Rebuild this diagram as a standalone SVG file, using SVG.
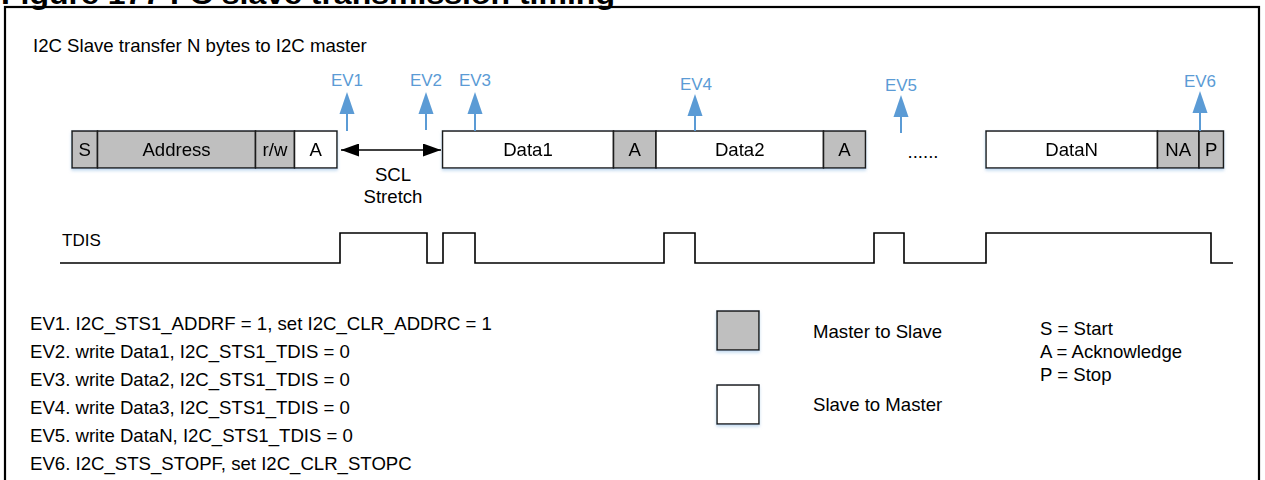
<svg xmlns="http://www.w3.org/2000/svg" width="1265" height="480" viewBox="0 0 1265 480">
<style>
text{font-family:"Liberation Sans",Arial,sans-serif;font-size:18.6px;fill:#000}
.t{text-anchor:middle}
.ev{fill:#5B9BD5;font-size:17px;text-anchor:middle}
.m{fill:#BFBFBF;stroke:#1a1a1a;stroke-width:1.5}
.s{fill:#FFFFFF;stroke:#1a1a1a;stroke-width:1.5}
.evl{stroke:#5B9BD5;stroke-width:2;fill:none}
.evh{fill:#5B9BD5}
.wave{fill:none;stroke:#000;stroke-width:1.6}
</style>
<defs>
<filter id="sh" x="-10%" y="-20%" width="120%" height="160%">
<feDropShadow dx="0" dy="2" stdDeviation="1.5" flood-color="#9DC3E6" flood-opacity="0.6"/>
</filter>
<marker id="ah" markerWidth="18" markerHeight="13" refX="18" refY="6.5" orient="auto" markerUnits="userSpaceOnUse">
<path d="M0,0 L18,6.5 L0,13 Z" fill="#000"/>
</marker>
</defs>
<rect width="1265" height="480" fill="#fff"/>
<text x="1" y="4" style="font-weight:bold;font-size:28px" textLength="614" lengthAdjust="spacingAndGlyphs">Figure 177 I²C slave transmission timing</text>
<rect x="5" y="7" width="1254" height="500" fill="none" stroke="#000" stroke-width="2.2"/>
<text x="33" y="52">I2C Slave transfer N bytes to I2C master</text>

<g id="frame1" filter="url(#sh)">
<g id="S"><rect class="m" x="72" y="131" width="25.5" height="37"/><text class="t" x="84.7" y="156">S</text></g>
<g id="Address"><rect class="m" x="97.5" y="131" width="158" height="37"/><text class="t" x="176.5" y="156">Address</text></g>
<g id="rw"><rect class="m" x="255.5" y="131" width="39" height="37"/><text class="t" x="275" y="156">r/w</text></g>
<g id="A0"><rect class="s" x="294.5" y="131" width="42.5" height="37"/><text class="t" x="315.7" y="156">A</text></g>
</g>
<g id="frame2" filter="url(#sh)">
<g id="Data1"><rect class="s" x="442.5" y="131" width="171" height="37"/><text class="t" x="528" y="156">Data1</text></g>
<g id="A1"><rect class="m" x="613.5" y="131" width="42.5" height="37"/><text class="t" x="634.7" y="156">A</text></g>
<g id="Data2"><rect class="s" x="656" y="131" width="167.5" height="37"/><text class="t" x="739.7" y="156">Data2</text></g>
<g id="A2"><rect class="m" x="823.5" y="131" width="42" height="37"/><text class="t" x="844.5" y="156">A</text></g>
</g>
<g id="dots"><text class="t" x="923" y="158">......</text></g>
<g id="frame3" filter="url(#sh)">
<g id="DataN"><rect class="s" x="986" y="131" width="171.5" height="37"/><text class="t" x="1071.7" y="156">DataN</text></g>
<g id="NA"><rect class="m" x="1157.5" y="131" width="41.5" height="37"/><text class="t" x="1178.2" y="156">NA</text></g>
<g id="P"><rect class="m" x="1199" y="131" width="24.5" height="37"/><text class="t" x="1211.2" y="156">P</text></g>
</g>

<g id="connectors">
<line x1="390" y1="150" x2="341" y2="150" stroke="#000" stroke-width="1.6" marker-end="url(#ah)"/>
<line x1="390" y1="150" x2="441" y2="150" stroke="#000" stroke-width="1.6" marker-end="url(#ah)"/>
<g id="ev1a"><line class="evl" x1="347" y1="112" x2="347" y2="131"/><path class="evh" d="M347,92 L354.5,114 L339.5,114 Z"/></g>
<g id="ev2a"><line class="evl" x1="426" y1="112" x2="426" y2="130"/><path class="evh" d="M426,92 L433.5,114 L418.5,114 Z"/></g>
<g id="ev3a"><line class="evl" x1="475" y1="112" x2="475" y2="131"/><path class="evh" d="M475,92 L482.5,114 L467.5,114 Z"/></g>
<g id="ev4a"><line class="evl" x1="695" y1="113" x2="695" y2="131"/><path class="evh" d="M695,94 L702.5,116 L687.5,116 Z"/></g>
<g id="ev5a"><line class="evl" x1="901" y1="115" x2="901" y2="133"/><path class="evh" d="M901,95 L908.5,117 L893.5,117 Z"/></g>
<g id="ev6a"><line class="evl" x1="1200" y1="111" x2="1200" y2="131"/><path class="evh" d="M1200,91 L1207.5,113 L1192.5,113 Z"/></g>
</g>

<g id="stretch"><text class="t" x="393" y="181">SCL</text><text class="t" x="393" y="203">Stretch</text></g>
<g id="evlabels">
<text class="ev" x="347" y="86">EV1</text>
<text class="ev" x="426" y="86">EV2</text>
<text class="ev" x="475" y="86">EV3</text>
<text class="ev" x="696" y="90">EV4</text>
<text class="ev" x="901" y="91">EV5</text>
<text class="ev" x="1200" y="87">EV6</text>
</g>

<g id="tdis">
<text x="62" y="246" style="font-size:17px">TDIS</text>
<path class="wave" d="M60,263 H340 V233 H427 V263 H443 V233 H475 V263 H664 V233 H695 V263 H874 V233 H904 V263 H986 V233 H1211 V263 H1233"/>
</g>

<g id="events">
<text x="30" y="330">EV1. I2C_STS1_ADDRF = 1, set I2C_CLR_ADDRC = 1</text>
<text x="30" y="358">EV2. write Data1, I2C_STS1_TDIS = 0</text>
<text x="30" y="386">EV3. write Data2, I2C_STS1_TDIS = 0</text>
<text x="30" y="414">EV4. write Data3, I2C_STS1_TDIS = 0</text>
<text x="30" y="442">EV5. write DataN, I2C_STS1_TDIS = 0</text>
<text x="30" y="470">EV6. I2C_STS_STOPF, set I2C_CLR_STOPC</text>
</g>

<g id="legend">
<g id="lgM" filter="url(#sh)"><rect class="m" x="717" y="311" width="42" height="39"/></g>
<text x="813" y="338">Master to Slave</text>
<g id="lgS" filter="url(#sh)"><rect class="s" x="717" y="385" width="42" height="39"/></g>
<text x="813" y="411">Slave to Master</text>
<text x="1040" y="335">S = Start</text>
<text x="1040" y="358">A = Acknowledge</text>
<text x="1040" y="381">P = Stop</text>
</g>
</svg>
